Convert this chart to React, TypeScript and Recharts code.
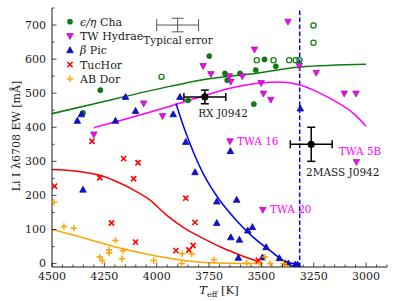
import React from 'react';
import { ComposedChart, Scatter, Line, XAxis, YAxis, ErrorBar, ReferenceLine } from 'recharts';

// [Teff (K), Li EW (mÅ)]
const ETA_CHA = [[4269, 509], [4352, 442], [3749, 609], [3674, 558], [3663, 538], [3602, 558], [3527, 568], [3485, 599], [3431, 579], [3536, 468], [3850, 479]];
const ETA_CHA_OPEN = [[3977, 548], [3522, 597], [3442, 597], [3367, 597], [3336, 597], [3318, 597], [3251, 699], [3251, 648]];
const TW_HYA = [[4300, 379], [4062, 470], [3972, 433], [3778, 580], [3741, 556], [3653, 550], [3646, 534], [3591, 550], [3533, 628], [3501, 530], [3490, 499], [3455, 481], [3373, 710], [3319, 580], [3238, 560], [3104, 499], [3048, 499], [3650, 359], [3493, 158], [3046, 298]];
const BETA_PIC = [[4379, 419], [4360, 438], [4149, 489], [4197, 419], [4101, 448], [3921, 438], [3889, 489], [3861, 357], [4352, 217], [3817, 268], [3648, 330], [3713, 182], [3618, 187], [3713, 119], [3565, 97], [3543, 107], [3646, 77], [3605, 70], [3477, 48], [3610, 17], [3414, 16], [3495, 18], [3386, 0], [3371, 0], [3338, -3], [3327, -3], [3314, 455]];
const TUC_HOR = [[4309, 359], [4488, 227], [4272, 252], [4158, 308], [4089, 296], [4110, 249], [4216, 119], [4101, 63], [3908, 38], [3861, 192], [3817, 121], [3846, 40], [3826, 53], [3514, 9]];
const AB_DOR = [[4491, 180], [4443, 109], [4396, 104], [4197, 68], [4228, 40], [4228, 31], [4161, 38], [4272, 19], [4260, 9], [4166, 14], [4014, 9], [3878, 29], [3881, 0], [3833, 29], [3726, 11], [3570, 1], [3506, 0], [3482, 19], [3458, 0], [3394, 0], [3382, -6]];

// fitted curves
const FIT_ETA = [[4500, 440], [4272, 473], [3937, 520], [3793, 538], [3554, 556], [3315, 577], [3000, 585]];
const FIT_TWA = [[4300, 399], [4113, 430], [3945, 460], [3793, 489], [3634, 517], [3410, 533], [3320, 525], [3251, 509], [3155, 479], [3059, 440], [3000, 403]];
const FIT_BPIC = [[3908, 470], [3865, 391], [3778, 264], [3698, 185], [3618, 126], [3538, 77], [3458, 38], [3378, 4], [3338, 0]];
const FIT_TUC = [[4500, 276], [4380, 271], [4272, 259], [4192, 241], [4113, 217], [4033, 187], [3953, 142], [3870, 105], [3778, 74], [3700, 50], [3618, 29], [3506, 4]];
const FIT_ABD = [[4500, 100], [4352, 76], [4192, 48], [4033, 26], [3953, 17], [3793, 4], [3650, 1], [3506, 0]];

// [Teff, EW, xerr, yerr]
const TYPICAL_ERR = [[3900, 700, 100, 20]];
const RX_J0942 = [[3770, 489, 100, 20]];
const MASS_J0942 = [[3262, 350, 100, 50]];
const LITHIUM_DIP = 3317;

const X_MAJOR = [4500, 4250, 4000, 3750, 3500, 3250, 3000];
const Y_MAJOR = [0, 100, 200, 300, 400, 500, 600, 700];
const X_TICKS: number[] = [];
for (let t = 4500; t >= 2900; t -= 50) X_TICKS.push(t);
const Y_TICKS: number[] = [];
for (let v = 0; v <= 750; v += 50) Y_TICKS.push(v);

const pts = (rows: number[][]) => rows.map(([t, ew, ex, ey]) => ({ t, ew, ex, ey }));

const FONT = 'DejaVu Serif, serif';
const INK = '#1a1a1a';
const GREEN = '#0a7d0a';
const MAGENTA = '#ff00ff';
const BLUE = '#0000ff';
const RED = '#ff0000';
const ORANGE = '#ffa500';

const dot = (fill: string) => (p: any) => <circle cx={p.cx} cy={p.cy} r={2.6} fill={fill} stroke="#0a5a0a" strokeWidth={0.5} />;
const ring = (p: any) => <circle cx={p.cx} cy={p.cy} r={2.6} fill="none" stroke={GREEN} strokeWidth={1.2} />;
const tri = (fill: string, edge: string, down: boolean) => (p: any) => {
  const { cx, cy } = p;
  const k = down ? -1 : 1;
  const d = `M${cx},${cy - 3.5 * k}L${cx + 3.3},${cy + 2.5 * k}L${cx - 3.3},${cy + 2.5 * k}Z`;
  return <path d={d} fill={fill} stroke={edge} strokeWidth={0.7} />;
};
const cross = (p: any) => (
  <path d={`M${p.cx - 2.6},${p.cy - 2.6}L${p.cx + 2.6},${p.cy + 2.6}M${p.cx - 2.6},${p.cy + 2.6}L${p.cx + 2.6},${p.cy - 2.6}`} stroke={RED} strokeWidth={1.6} />
);
const plus = (p: any) => (
  <path d={`M${p.cx - 3.2},${p.cy}L${p.cx + 3.2},${p.cy}M${p.cx},${p.cy - 3.2}L${p.cx},${p.cy + 3.2}`} stroke={ORANGE} strokeWidth={1.5} />
);
const bigDot = (p: any) => <circle cx={p.cx} cy={p.cy} r={3.6} fill="#000" />;
const none = () => <g />;

const tickBottom = (p: any) => {
  const v = p.payload.value;
  const major = X_MAJOR.includes(v);
  return (
    <g>
      <line x1={p.x} x2={p.x} y1={p.y - 5} y2={p.y - 5 - (major ? 4.5 : 2.5)} stroke={INK} strokeWidth={0.8} />
      {major && <text x={p.x} y={p.y} dy="0.71em" textAnchor="middle" fontSize={11} fontFamily={FONT} fill={INK}>{v}</text>}
    </g>
  );
};
const tickTop = (p: any) => {
  const major = X_MAJOR.includes(p.payload.value);
  return <line x1={p.x} x2={p.x} y1={p.y} y2={p.y + (major ? 4.5 : 2.5)} stroke={INK} strokeWidth={0.8} />;
};
const tickLeft = (p: any) => {
  const v = p.payload.value;
  const major = Y_MAJOR.includes(v);
  return (
    <g>
      <line x1={p.x + 6} x2={p.x + 6 + (major ? 4.5 : 2.5)} y1={p.y} y2={p.y} stroke={INK} strokeWidth={0.8} />
      {major && <text x={p.x} y={p.y} dy="0.355em" textAnchor="end" fontSize={11} fontFamily={FONT} fill={INK}>{v}</text>}
    </g>
  );
};
const tickRight = (p: any) => {
  const major = Y_MAJOR.includes(p.payload.value);
  return <line x1={p.x} x2={p.x - (major ? 4.5 : 2.5)} y1={p.y} y2={p.y} stroke={INK} strokeWidth={0.8} />;
};

const LEGEND = [
  { label: 'Cha', greek: 'ϵ/η ', marker: 'dot' },
  { label: 'TW Hydrae', greek: '', marker: 'down' },
  { label: 'Pic', greek: 'β ', marker: 'up' },
  { label: 'TucHor', greek: '', marker: 'x' },
  { label: 'AB Dor', greek: '', marker: '+' },
];

function LegendMarker({ kind, cx, cy }: { kind: string; cx: number; cy: number }) {
  const p = { cx, cy };
  if (kind === 'dot') return dot(GREEN)(p);
  if (kind === 'down') return tri(MAGENTA, '#7a2a8a', true)(p);
  if (kind === 'up') return tri('#1010dd', '#000080', false)(p);
  if (kind === 'x') return cross(p);
  return plus(p);
}

function Overlay() {
  const txt = { fontFamily: FONT, fontSize: 10.5 };
  return (
    <svg width={399} height={301} style={{ position: 'absolute', left: 0, top: 0, pointerEvents: 'none' }}>
      {LEGEND.map((e, i) => (
        <g key={e.label}>
          <LegendMarker kind={e.marker} cx={70} cy={21.7 + i * 14.3} />
          <text x={80} y={21.7 + i * 14.3} dy="0.36em" fontFamily={FONT} fontSize={11} fill={INK}>
            {e.greek && <tspan fontStyle="italic">{e.greek}</tspan>}
            {e.label}
          </text>
        </g>
      ))}
      <text x={178} y={40} dy="0.36em" textAnchor="middle" {...txt} fill={INK}>Typical error</text>
      <text x={223} y={113} dy="0.36em" textAnchor="middle" {...txt} fill={INK}>RX J0942</text>
      <text x={306} y={172.7} dy="0.36em" {...txt} fill={INK}>2MASS J0942</text>
      <text x={237} y={141.7} dy="0.36em" {...txt} fill={MAGENTA}>TWA 16</text>
      <text x={270} y={209.3} dy="0.36em" {...txt} fill={MAGENTA}>TWA 20</text>
      <text x={360} y={151.7} dy="0.36em" textAnchor="middle" {...txt} fill={MAGENTA}>TWA 5B</text>
      <text transform="translate(20,136) rotate(-90)" textAnchor="middle" fontFamily={FONT} fontSize={11} fill={INK}>
        Li I λ6708 EW [mÅ]
      </text>
      <text x={219} y={294} textAnchor="middle" fontFamily={FONT} fontSize={11.5} fill={INK}>
        <tspan fontStyle="italic">T</tspan>
        <tspan fontSize={8} dy={2.5}>eff</tspan>
        <tspan dy={-2.5}> [K]</tspan>
      </text>
    </svg>
  );
}

export default function App() {
  const axisLine = { stroke: INK, strokeWidth: 1 };
  return (
    <div style={{ position: 'absolute', left: 0, top: 0, width: 399, height: 301, background: '#fff' }}>
      <ComposedChart width={399} height={301} margin={{ top: 8, right: 12, bottom: 0, left: 0 }}>
        <XAxis type="number" dataKey="t" domain={[2900, 4500]} reversed allowDataOverflow ticks={X_TICKS} interval={0}
          tick={tickBottom} tickLine={false} tickSize={0} tickMargin={5} height={34} axisLine={axisLine} />
        <XAxis xAxisId="top" orientation="top" type="number" dataKey="t" domain={[2900, 4500]} reversed allowDataOverflow
          ticks={X_TICKS} interval={0} tick={tickTop} tickLine={false} tickSize={0} tickMargin={0} height={0} axisLine={axisLine} />
        <YAxis type="number" dataKey="ew" domain={[-10, 750]} allowDataOverflow ticks={Y_TICKS} interval={0}
          tick={tickLeft} tickLine={false} tickSize={0} tickMargin={6} width={52} axisLine={axisLine} />
        <YAxis yAxisId="right" orientation="right" type="number" dataKey="ew" domain={[-10, 750]} allowDataOverflow
          ticks={Y_TICKS} interval={0} tick={tickRight} tickLine={false} tickSize={0} tickMargin={0} width={0} axisLine={axisLine} />

        <ReferenceLine x={LITHIUM_DIP} stroke={BLUE} strokeWidth={1.5} strokeDasharray="4.5 2.5" />

        <Line data={pts(FIT_ETA)} dataKey="ew" type="monotone" stroke={GREEN} strokeWidth={1.5} dot={false} isAnimationActive={false} />
        <Line data={pts(FIT_TWA)} dataKey="ew" type="monotone" stroke={MAGENTA} strokeWidth={1.5} dot={false} isAnimationActive={false} />
        <Line data={pts(FIT_BPIC)} dataKey="ew" type="monotone" stroke={BLUE} strokeWidth={1.5} dot={false} isAnimationActive={false} />
        <Line data={pts(FIT_TUC)} dataKey="ew" type="monotone" stroke={RED} strokeWidth={1.5} dot={false} isAnimationActive={false} />
        <Line data={pts(FIT_ABD)} dataKey="ew" type="monotone" stroke={ORANGE} strokeWidth={1.5} dot={false} isAnimationActive={false} />

        <Scatter data={pts(ETA_CHA)} dataKey="ew" shape={dot(GREEN)} isAnimationActive={false} />
        <Scatter data={pts(ETA_CHA_OPEN)} dataKey="ew" shape={ring} isAnimationActive={false} />
        <Scatter data={pts(TW_HYA)} dataKey="ew" shape={tri(MAGENTA, '#7a2a8a', true)} isAnimationActive={false} />
        <Scatter data={pts(BETA_PIC)} dataKey="ew" shape={tri('#1010dd', '#000080', false)} isAnimationActive={false} />
        <Scatter data={pts(TUC_HOR)} dataKey="ew" shape={cross} isAnimationActive={false} />
        <Scatter data={pts(AB_DOR)} dataKey="ew" shape={plus} isAnimationActive={false} />

        <Scatter data={pts(TYPICAL_ERR)} dataKey="ew" shape={none} isAnimationActive={false}>
          <ErrorBar dataKey="ex" direction="x" width={6} stroke="#555" strokeWidth={1} isAnimationActive={false} />
          <ErrorBar dataKey="ey" direction="y" width={6} stroke="#555" strokeWidth={1} isAnimationActive={false} />
        </Scatter>
        <Scatter data={pts(RX_J0942)} dataKey="ew" shape={bigDot} isAnimationActive={false}>
          <ErrorBar dataKey="ex" direction="x" width={4} stroke="#000" strokeWidth={1.5} isAnimationActive={false} />
          <ErrorBar dataKey="ey" direction="y" width={4} stroke="#000" strokeWidth={1.5} isAnimationActive={false} />
        </Scatter>
        <Scatter data={pts(MASS_J0942)} dataKey="ew" shape={bigDot} isAnimationActive={false}>
          <ErrorBar dataKey="ex" direction="x" width={4} stroke="#000" strokeWidth={1.5} isAnimationActive={false} />
          <ErrorBar dataKey="ey" direction="y" width={4} stroke="#000" strokeWidth={1.5} isAnimationActive={false} />
        </Scatter>
      </ComposedChart>
      <Overlay />
    </div>
  );
}
